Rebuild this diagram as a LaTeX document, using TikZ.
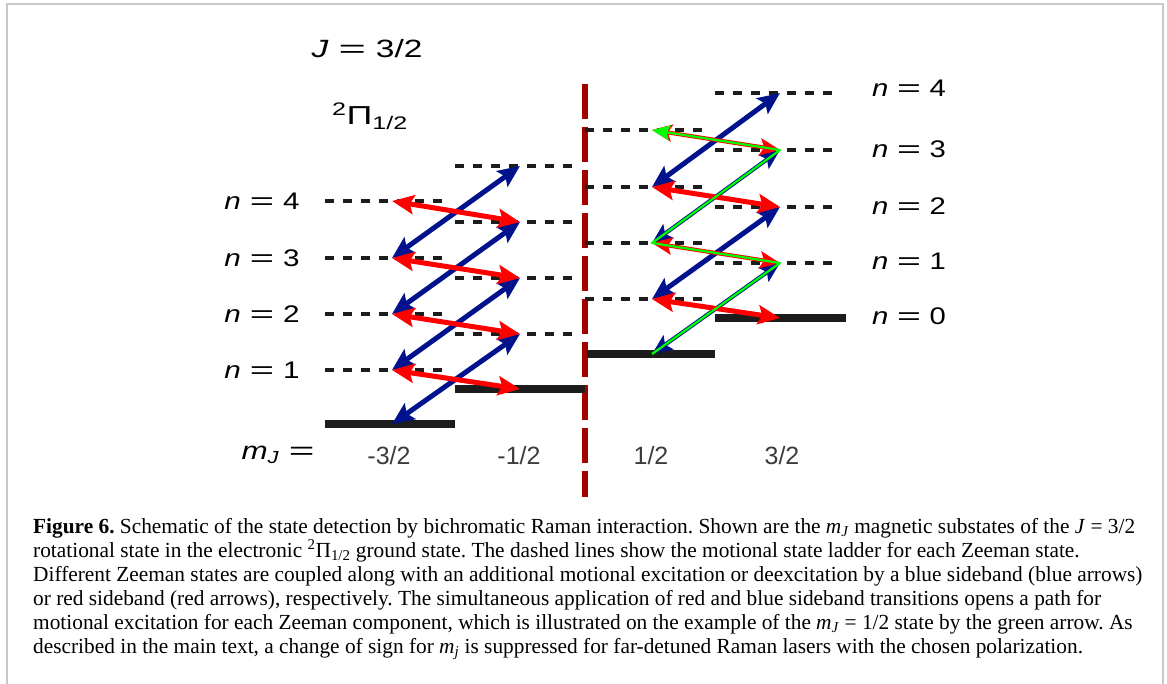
\documentclass[tikz,border=0pt]{standalone}
\usepackage{fontspec}
\usepackage{graphicx}
\setmainfont{Liberation Serif}
\newfontfamily\dfont{Liberation Sans}
\usetikzlibrary{arrows.meta}
\frenchspacing

\definecolor{navyb}{RGB}{0,18,140}
\definecolor{dred}{RGB}{165,0,0}
\definecolor{lvl}{RGB}{28,28,28}
\definecolor{limeg}{RGB}{0,255,0}
\definecolor{tickc}{RGB}{60,60,60}
\definecolor{framec}{RGB}{200,200,200}

\newlength\caplen
\newcommand\capfont{\fontsize{21.5}{24}\selectfont}
\newcommand\eqs{\scalebox{1.4}[1]{=}}
\newcommand\fitw[2]{\resizebox{#1}{\height}{#2}}
\newcommand\mJ{\textit{m}\textsubscript{\textit{J}}}
\newcommand\lineone{\textbf{Figure 6.} Schematic of the state detection by bichromatic Raman interaction. Shown are the \mJ{} magnetic substates of the \textit{J}\hspace{0.25em}=\hspace{0.25em}3/2}

\tikzset{
  lev/.style={lvl, line width=3.5pt, dash pattern=on 9pt off 9pt},
  gnd/.style={lvl, line width=8pt},
  barr/.style={navyb, line width=5pt, {Stealth[length=22pt,width=19pt,inset=4pt]}-{Stealth[length=22pt,width=19pt,inset=4pt]}},
  rarr/.style={red, line width=5pt, {Stealth[length=22pt,width=19pt,inset=4pt]}-{Stealth[length=22pt,width=19pt,inset=4pt]}},
  tbarr/.style={navyb, line width=4pt, {Stealth[length=20pt,width=17pt,inset=4pt]}-{Stealth[length=20pt,width=17pt,inset=4pt]}},
  trarr/.style={red, line width=4pt, {Stealth[length=20pt,width=17pt,inset=4pt]}-{Stealth[length=20pt,width=17pt,inset=4pt]}},
  garr/.style={limeg, line width=2.2pt, line join=round, -{Stealth[length=18pt,width=15pt,inset=3pt]}},
  lab/.style={inner sep=0pt, font=\dfont\fontsize{24}{28}\selectfont},
  tk/.style={inner sep=0pt, text=tickc, font=\dfont\fontsize{25}{30}\selectfont},
  capline/.style={anchor=base west, inner sep=0pt, font=\capfont},
}

\begin{document}
\settowidth{\caplen}{\capfont\lineone}%
\pgfmathsetmacro\capsc{1102/\caplen}%
\begin{tikzpicture}[x=1pt,y=-1pt]
\useasboundingbox (0,0) rectangle (1167,684);

% frame
\draw[framec, line width=1.5pt] (7,684) -- (7,4) -- (1163,4) -- (1163,684);

% divider
\draw[dred, line width=6.5pt, dash pattern=on 35pt off 8pt] (585,84) -- (585,497);

% arrow end points
\foreach \n/\y in {0/424,1/370,2/314,3/258,4/201} \coordinate (A\n) at (392,\y);
\foreach \n/\y in {0/389,1/334,2/278,3/222,4/166} \coordinate (B\n) at (520,\y);
\foreach \n/\y in {0/354,1/299,2/243,3/187,4/130} \coordinate (C\n) at (652,\y);
\foreach \n/\y in {0/318,1/263,2/207,3/150,4/93} \coordinate (D\n) at (780,\y);

% levels
\foreach \y in {370,314,258,201} \draw[lev] (325,\y) -- (450,\y);
\foreach \y in {334,278,222,166} \draw[lev] (455,\y) -- (580,\y);
\foreach \y in {299,243,187,130} \draw[lev] (585,\y) -- (710,\y);
\foreach \y in {263,207,150,93} \draw[lev] (715,\y) -- (840,\y);
\draw[gnd] (325,424) -- (455,424);
\draw[gnd] (455,389) -- (585,389);
\draw[gnd] (587,354) -- (715,354);
\draw[gnd] (715,318) -- (846,318);

% left arrows
\draw[barr] (A0) -- (B1);
\draw[barr] (A1) -- (B2);
\draw[barr] (A2) -- (B3);
\draw[barr] (A3) -- (B4);
\draw[rarr] (A1) -- (B0);
\draw[rarr] (A2) -- (B1);
\draw[rarr] (A3) -- (B2);
\draw[rarr] (A4) -- (B3);

% right arrows
\draw[barr] (C1) -- (D2);
\draw[barr] (C3) -- (D4);
\draw[tbarr] (C0) -- (D1);
\draw[tbarr] (C2) -- (D3);
\draw[rarr] (C1) -- (D0);
\draw[rarr] (C3) -- (D2);
\draw[trarr] (C2) -- (D1);
\draw[trarr] (C4) -- (D3);
\draw[garr] (C0) -- (D1) -- (C2) -- (D3) -- (C4);

% labels
\node[lab, font=\dfont\fontsize{25}{30}\selectfont] (title) at (367,49) {\fitw{111pt}{\textit{J}\hspace{0.3em}\eqs\hspace{0.3em}3/2}};
\node[lab, font=\dfont\fontsize{26}{30}\selectfont] (term) at (370,116) {\fitw{76pt}{\textsuperscript{2}Π\textsubscript{1/2}}};
\foreach \y/\k in {201/4,258/3,314/2,370/1}
  \node[lab] (nl\k) at (262,\y) {\fitw{75pt}{\textit{n}\hspace{0.3em}\eqs\hspace{0.3em}\k}};
\foreach \y/\k in {88/4,149/3,206/2,261/1,316/0}
  \node[lab] (nr\k) at (909,\y) {\fitw{74pt}{\textit{n}\hspace{0.3em}\eqs\hspace{0.3em}\k}};
\node[lab, font=\dfont\fontsize{25}{30}\selectfont] (mjl) at (278,455) {\fitw{73pt}{\textit{m}\textsubscript{\textit{J}}\hspace{0.3em}\eqs}};
\node[tk] (t1) at (389,456) {-3/2};
\node[tk] (t2) at (519,456) {-1/2};
\node[tk] (t3) at (651,456) {1/2};
\node[tk] (t4) at (782,456) {3/2};

% caption
\node[capline] (c1) at (33,533) {\scalebox{\capsc}[1]{\lineone}};
\node[capline] (c2) at (33,557) {\scalebox{\capsc}[1]{rotational state in the electronic \textsuperscript{2}Π\textsubscript{1/2} ground state. The dashed lines show the motional state ladder for each Zeeman state.}};
\node[capline] (c3) at (33,581) {\scalebox{\capsc}[1]{Different Zeeman states are coupled along with an additional motional excitation or deexcitation by a blue sideband (blue arrows)}};
\node[capline] (c4) at (33,605) {\scalebox{\capsc}[1]{or red sideband (red arrows), respectively. The simultaneous application of red and blue sideband transitions opens a path for}};
\node[capline] (c5) at (33,629) {\scalebox{\capsc}[1]{motional excitation for each Zeeman component, which is illustrated on the example of the \mJ\hspace{0.25em}=\hspace{0.25em}1/2 state by the green arrow. As}};
\node[capline] (c6) at (33,653) {\scalebox{\capsc}[1]{described in the main text, a change of sign for \textit{m}\textsubscript{\textit{j}} is suppressed for far-detuned Raman lasers with the chosen polarization.}};
\end{tikzpicture}
\end{document}
